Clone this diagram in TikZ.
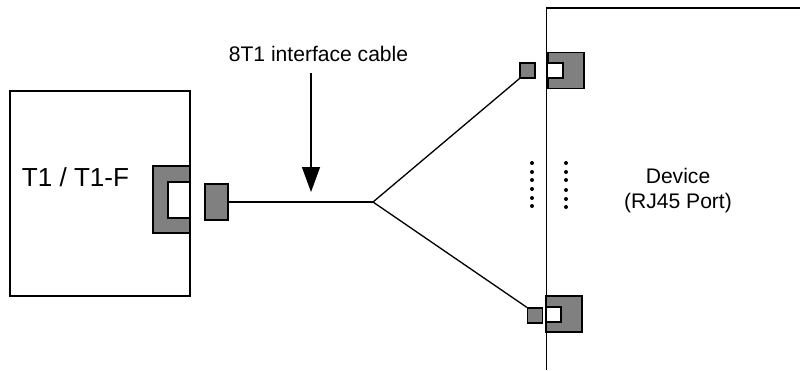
\documentclass[tikz,border=0pt]{standalone}
\usepackage{fontspec}
\setmainfont{Liberation Sans}
\usetikzlibrary{arrows.meta}
\definecolor{portGray}{HTML}{808080}
\tikzset{
  outline/.style={draw=black, line width=0.75pt},
  portbody/.style={outline, fill=portGray, inner sep=0pt},
  porthole/.style={outline, fill=white, inner sep=0pt},
  plug/.style={outline, fill=portGray, inner sep=0pt},
  dotmark/.style={circle, fill=black, inner sep=0pt, minimum size=0.08cm},
  cable/.style={black, line width=0.75pt},
}
\begin{document}
\begin{tikzpicture}[x=0.02cm, y=-0.02cm, line cap=butt, >={Triangle[length=0.5cm, width=0.36cm]}]
    \useasboundingbox (0,0) rectangle (800,370);
    % T1 side
    \node[outline, inner sep=0pt, minimum width=3.6cm, minimum height=4.1cm] (t1box) at (100,193.5) {};
    \node[font=\fontsize{14.85pt}{16pt}\selectfont, inner sep=0pt] (t1label) at (75.5,177) {T1 / T1-F};
    \node[portbody, minimum width=0.74cm, minimum height=1.34cm] (t1port) at (171.5,199.5) {};
    \node[porthole, minimum width=0.44cm, minimum height=0.72cm] (t1hole) at (179,200) {};
    \draw[outline] (t1box.north east) -- (t1box.south east);
    \node[plug, minimum width=0.46cm, minimum height=0.72cm] (t1plug) at (216.5,202) {};
    % device side
    \coordinate (devtop) at (546.5,8);
    \coordinate (devbot) at (546.5,370);
    \coordinate (devright) at (800,8);
    \draw[outline] (devbot) -- (devtop) -- (devright);
    \node[portbody, minimum width=0.72cm, minimum height=0.72cm] (topport) at (566,70.5) {};
    \node[porthole, minimum width=0.32cm, minimum height=0.3cm] (tophole) at (555,70.5) {};
    \node[portbody, minimum width=0.72cm, minimum height=0.72cm] (botport) at (564,314) {};
    \node[porthole, minimum width=0.3cm, minimum height=0.3cm] (bothole) at (553.5,314.5) {};
    \node[plug, minimum size=0.3cm] (topplug) at (527.5,70.5) {};
    \node[plug, minimum size=0.3cm] (botplug) at (535,315.5) {};
    \node[align=center, inner sep=0pt, font=\fontsize{12pt}{14.2pt}\selectfont] (devlabel) at (678,191) {Device\\(RJ45 Port)};
    % cable
    \coordinate (split) at (373,202);
    \draw[cable] (t1plug.east) -- (split);
    \draw[cable] (split) -- (topplug.south west);
    \draw[cable] (split) -- (botplug.north west);
    % label and arrow
    \node[font=\fontsize{12pt}{13pt}\selectfont, inner sep=0pt] (cablelabel) at (318.5,54) {8T1 interface cable};
    \coordinate (cabletop) at (311,73);
    \coordinate (cabletip) at (311,192);
    \draw[cable, ->] (cabletop) -- (cabletip);
    % dots
    \foreach \i/\y in {1/163,2/172,3/180,4/189,5/198,6/206}
        \node[dotmark] (dl\i) at (532,\y) {};
    \foreach \i/\y in {1/163,2/172,3/180,4/190,5/199,6/207}
        \node[dotmark] (dr\i) at (566,\y) {};
\end{tikzpicture}
\end{document}
